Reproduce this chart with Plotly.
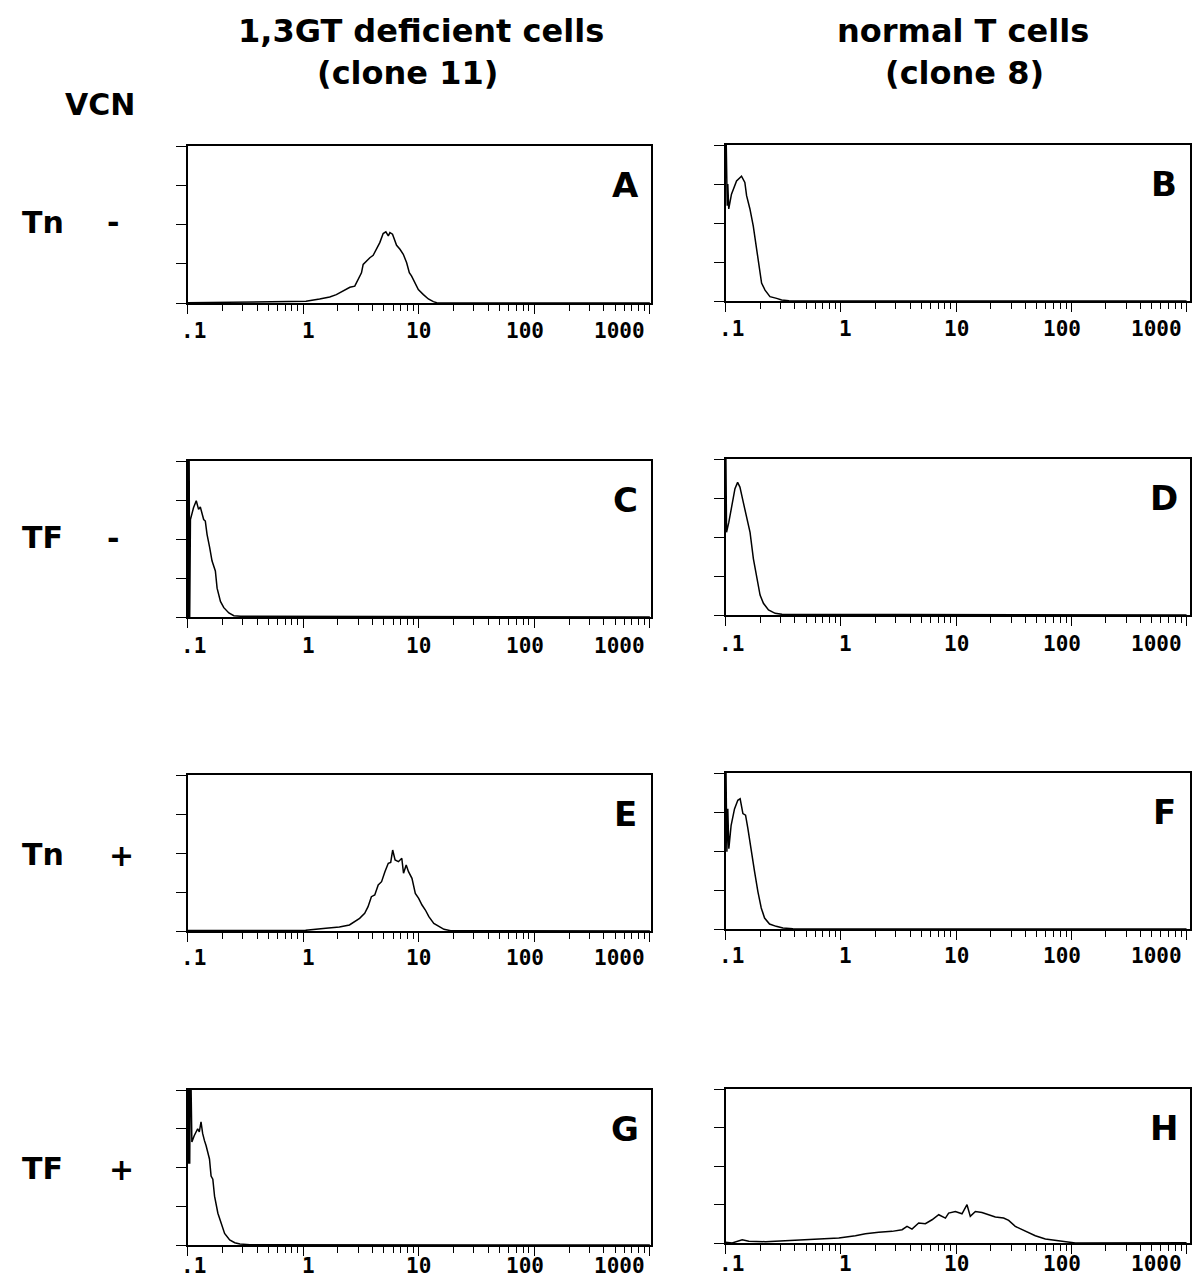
import math
import plotly.graph_objects as go

# ---------------- data ----------------
PANEL_LETTERS = ["A", "B", "C", "D", "E", "F", "G", "H"]
ROW_STAIN = ["Tn", "TF", "Tn", "TF"]
ROW_VCN = ["-", "-", "+", "+"]
COLUMN_TITLES = [["1,3GT deficient cells", "(clone 11)"], ["normal T cells", "(clone 8)"]]

TICK_VALUES = [0.1, 1, 10, 100, 1000]
TICK_LABELS = [".1", "1", "10", "100", "1000"]
MINOR_TICKS = [0.2, 0.3, 0.4, 0.5, 0.6, 0.7, 0.8, 0.9,
               2, 3, 4, 5, 6, 7, 8, 9,
               20, 30, 40, 50, 60, 70, 80, 90,
               200, 300, 400, 500, 600, 700, 800, 900]
Y_TICKS = [0, 50, 100, 150, 200]

# Panel A : 1,3GT deficient, Tn, VCN -
X_A = [0.10, 0.19, 0.37, 0.71, 1.06, 1.39, 1.70, 1.94, 2.22, 2.54, 2.80, 2.99, 3.20, 3.31,
       3.53, 3.78, 4.04, 4.32, 4.61, 4.93, 5.20, 5.46, 5.64, 5.94, 6.44, 6.89, 7.36, 7.87,
       8.30, 8.69, 9.29, 9.93, 10.99, 12.13, 13.40, 14.32, 20.0, 1000]
Y_A = [0.4, 0.9, 0.9, 1.3, 2.1, 5.1, 7.7, 10.7, 15, 20, 21.4, 29.9, 38.5, 49.1,
       53.4, 57.7, 60.7, 68.4, 76.9, 88.5, 90.6, 85.5, 89.7, 87.6, 73.5, 68.4, 62, 51.3,
       38.5, 34.2, 25.6, 17.1, 10.7, 5.1, 1.7, 0.4, 0, 0]

# Panel B : normal T cells, Tn, VCN -
X_B = [0.100, 0.1035, 0.1047, 0.1067, 0.1127, 0.1247, 0.1377, 0.1472, 0.1524, 0.1629,
       0.1742, 0.1862, 0.1991, 0.2056, 0.2203, 0.2432, 0.2780, 0.3069, 0.3548, 1000]
Y_B = [260, 122, 150, 118, 137, 154, 160, 152, 135, 118,
       96, 66, 38, 23, 14, 5.6, 3.4, 1.3, 0.3, 0]

# Panel C : 1,3GT deficient, TF, VCN -
X_C = [0.100, 0.1015, 0.1030, 0.1045, 0.1060, 0.1127, 0.1191, 0.1247, 0.1291, 0.1380,
       0.1426, 0.1476, 0.1556, 0.1629, 0.1742, 0.1803, 0.1928, 0.2061, 0.2280, 0.2518,
       0.2884, 1000]
Y_C = [260, 0, 260, 0, 125, 140, 149, 138, 141, 125,
       123, 106, 89, 72, 59, 37, 20, 12, 5.1, 1.7,
       0.9, 0]

# Panel D : normal T cells, TF, VCN -
X_D = [0.100, 0.1021, 0.1069, 0.1127, 0.1208, 0.1274, 0.1334, 0.1429, 0.1528, 0.1633,
       0.1746, 0.1866, 0.1995, 0.2133, 0.2360, 0.2698, 0.3090, 1000]
Y_D = [260, 106, 119, 140, 162, 170, 164, 144, 123, 106,
       72, 47, 25.5, 15, 6.4, 2.1, 0.85, 0]

# Panel E : 1,3GT deficient, Tn, VCN +
X_E = [0.100, 0.240, 0.658, 1.052, 1.574, 2.061, 2.518, 2.786, 3.083, 3.412, 3.648, 3.899,
       4.169, 4.467, 4.775, 5.105, 5.458, 5.728, 5.957, 6.252, 6.683, 7.145, 7.396, 7.798,
       8.166, 8.750, 9.354, 10.00, 10.69, 11.43, 12.25, 13.52, 14.96, 16.56, 18.92, 1000]
Y_E = [0.5, 0.4, 0.4, 0.9, 3.4, 5.1, 7.7, 12, 16.2, 22.6, 31.2, 44,
       46.2, 59, 63.2, 76.1, 86.8, 88, 103.8, 91, 88.9, 93.2, 74, 84.6,
       76, 67.5, 48.3, 41.9, 33.3, 26.9, 18.4, 9.8, 5.6, 2.1, 0.4, 0]

# Panel F : normal T cells, Tn, VCN +
X_F = [0.100, 0.1028, 0.1047, 0.1069, 0.1119, 0.1197, 0.1279, 0.1340, 0.1416, 0.1493,
       0.1563, 0.1671, 0.1786, 0.1910, 0.2042, 0.2183, 0.2410, 0.2754, 0.3148, 0.3846, 1000]
Y_F = [260, 99, 154, 103, 133, 154, 165, 167, 148, 146,
       129, 99, 74, 48, 27, 14, 6.4, 3.4, 1.3, 0.3, 0]

# Panel G : 1,3GT deficient, TF, VCN +
X_G = [0.100, 0.1015, 0.1030, 0.1045, 0.1060, 0.1091, 0.1143, 0.1225, 0.1265, 0.1309,
       0.1352, 0.1400, 0.1449, 0.1549, 0.1600, 0.1656, 0.1714, 0.1832, 0.1959, 0.2094,
       0.2317, 0.2564, 0.2838, 0.3467, 1000]
Y_G = [260, 105, 260, 105, 260, 133, 141, 150, 146, 159,
       144, 135, 128, 111, 89, 85, 63, 41, 28, 15,
       6.5, 3, 1.3, 0.4, 0]

# Panel H : normal T cells, TF, VCN +
X_H = [0.100, 0.1143, 0.1396, 0.1592, 0.2223, 0.3097, 0.4046, 0.5636, 0.7870, 0.9616,
       1.340, 1.637, 2.133, 2.786, 3.404, 3.758, 4.150, 4.742, 5.420, 6.194,
       7.079, 8.091, 8.630, 9.863, 11.27, 12.45, 13.30, 14.72, 16.79, 19.19,
       21.93, 25.88, 28.64, 32.66, 37.33, 41.30, 48.75, 59.57, 77.62, 94.84,
       108.4, 1000]
Y_H = [0.9, 0, 4.3, 2.2, 1.7, 2.6, 3.5, 4.3, 5.2, 6.5,
       9.5, 12.1, 13.8, 15.1, 17.3, 21.6, 18.1, 25.9, 25.1, 30.2,
       36.7, 32.4, 38.9, 41, 38, 49.7, 34.6, 41, 39.7, 36.7,
       33.7, 32.4, 29.4, 21.6, 17.3, 15.1, 9.5, 5.2, 2.6, 1.3,
       0, 0.4]

SERIES_X = [X_A, X_B, X_C, X_D, X_E, X_F, X_G, X_H]
SERIES_Y = [Y_A, Y_B, Y_C, Y_D, Y_E, Y_F, Y_G, Y_H]

# ---------------- layout geometry (pixels) ----------------
W, H = 1195, 1280
COL_X = [(187.5, 651.0), (725.5, 1190.0)]
COL_RANGE = [[-1.0, 3.01], [-1.0, 3.03]]
ROW_Y = [[(146, 303), (145, 301)],
         [(461, 617), (459, 615)],
         [(775, 931), (773, 929)],
         [(1090, 1245), (1089, 1243)]]
ROW_CENTER_Y = [222, 537, 854, 1168]
TICK_LABEL_NUDGE = [6, 5, 0, -9, -30]
TICK_LABEL_DROP = [28, 29, 27, 21]

TEXT_FONT = "DejaVu Sans"
MONO_FONT = "DejaVu Sans Mono"


def px(x):
    return x / W


def py(y):
    return 1 - y / H


fig = go.Figure()
annotations = []
layout = dict(
    width=W, height=H,
    margin=dict(l=0, r=0, t=0, b=0),
    paper_bgcolor="white", plot_bgcolor="white",
    showlegend=False,
)

for i, letter in enumerate(PANEL_LETTERS):
    row, col = divmod(i, 2)
    n = i + 1
    xa = "xaxis" if n == 1 else f"xaxis{n}"
    ya = "yaxis" if n == 1 else f"yaxis{n}"
    xref = "x" if n == 1 else f"x{n}"
    yref = "y" if n == 1 else f"y{n}"
    x0, x1 = COL_X[col]
    top, bottom = ROW_Y[row][col]
    layout[xa] = dict(
        type="log", range=COL_RANGE[col], domain=[px(x0), px(x1)], anchor=yref,
        showline=True, linecolor="black", linewidth=1.6, mirror=True,
        showgrid=False, zeroline=False,
        tickmode="array", tickvals=TICK_VALUES, ticks="outside", ticklen=9,
        tickwidth=1.3, tickcolor="black", showticklabels=False,
        minor=dict(tickmode="array", tickvals=MINOR_TICKS, ticks="outside",
                   ticklen=6, tickwidth=1.1, tickcolor="black", showgrid=False),
        fixedrange=True,
    )
    layout[ya] = dict(
        range=[0, 200], domain=[py(bottom), py(top)], anchor=xref,
        showline=True, linecolor="black", linewidth=1.6, mirror=True,
        showgrid=False, zeroline=False,
        tickmode="array", tickvals=Y_TICKS, ticks="outside", ticklen=10,
        tickwidth=1.2, tickcolor="black", showticklabels=False,
        fixedrange=True,
    )
    fig.add_trace(go.Scatter(
        x=SERIES_X[i], y=SERIES_Y[i], mode="lines",
        line=dict(color="black", width=1.5, shape="linear"),
        xaxis=xref, yaxis=yref, hoverinfo="skip",
    ))
    # panel letter
    annotations.append(dict(
        text=f"<b>{letter}</b>", xref=f"{xref} domain", yref=f"{yref} domain", x=1, y=1,
        xshift=-26, yshift=-39, xanchor="center", yanchor="middle", showarrow=False,
        font=dict(family=TEXT_FONT, size=34, color="black"),
    ))
    # x tick labels
    for val, lab, nud in zip(TICK_VALUES, TICK_LABELS, TICK_LABEL_NUDGE):
        annotations.append(dict(
            text=f"<b>{lab}</b>", xref=xref, yref=f"{yref} domain",
            x=math.log10(val), y=0, xshift=nud, yshift=-TICK_LABEL_DROP[row],
            xanchor="center", yanchor="middle", showarrow=False, borderpad=0,
            font=dict(family=MONO_FONT, size=21, color="black"),
        ))

# column titles
for col, (l1, l2) in enumerate(COLUMN_TITLES):
    cx1 = [421, 963][col]
    cx2 = [407, 964][col]
    annotations.append(dict(text=f"<b>{l1}</b>", xref="paper", yref="paper",
                            x=px(cx1), y=py(31), xanchor="center", yanchor="middle",
                            showarrow=False, font=dict(family=TEXT_FONT, size=32, color="black")))
    annotations.append(dict(text=f"<b>{l2}</b>", xref="paper", yref="paper",
                            x=px(cx2), y=py(73), xanchor="center", yanchor="middle",
                            showarrow=False, font=dict(family=TEXT_FONT, size=32, color="black")))

# VCN header and row labels
annotations.append(dict(text="<b>VCN</b>", xref="paper", yref="paper", x=px(100), y=py(104),
                        xanchor="center", yanchor="middle", showarrow=False,
                        font=dict(family=TEXT_FONT, size=30, color="black")))
for r in range(4):
    annotations.append(dict(text=f"<b>{ROW_STAIN[r]}</b>", xref="paper", yref="paper",
                            x=px(20), y=py(ROW_CENTER_Y[r]), xanchor="left", yanchor="middle",
                            showarrow=False, font=dict(family=TEXT_FONT, size=30, color="black")))
    annotations.append(dict(text=f"<b>{ROW_VCN[r]}</b>", xref="paper", yref="paper",
                            x=px(113 if ROW_VCN[r] == "-" else 121), y=py(ROW_CENTER_Y[r] + 1),
                            xanchor="center", yanchor="middle",
                            showarrow=False, font=dict(family=TEXT_FONT, size=30, color="black")))

layout["annotations"] = annotations
fig.update_layout(**layout)
fig.write_html(
    "out.html",
    config={"displayModeBar": False},
    post_script="document.body.style.margin='0';document.body.style.overflow='hidden';",
)
